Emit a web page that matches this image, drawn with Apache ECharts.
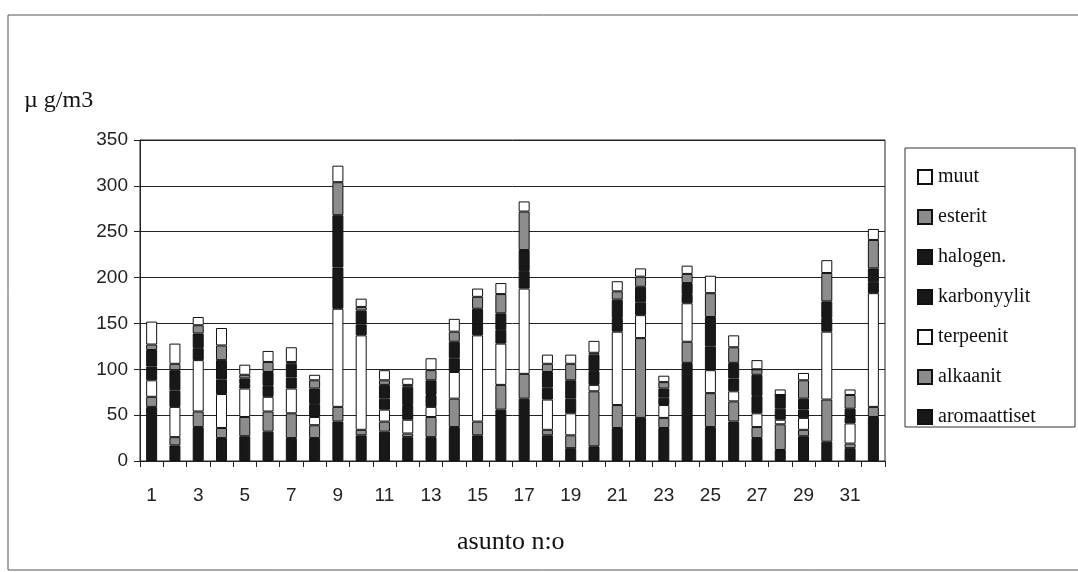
<!DOCTYPE html>
<html><head><meta charset="utf-8">
<script src="https://cdn.jsdelivr.net/npm/echarts@6/dist/echarts.min.js"></script>
<style>html,body{margin:0;padding:0;background:#fff}#c{width:1078px;height:572px}</style>
</head><body><div id="c"></div>
<script>
const categories = Array.from({length:32},(_,i)=>String(i+1));
const yTicks = [0,50,100,150,200,250,300,350];
const aromaattiset = [59,17,37,25,27,32,25,25,43,28,32,26,26,37,28,56,68,28,14,16,36,47,36,107,37,43,25,12,27,21,14,48];
const alkaanit     = [11,9,17,11,21,22,27,14,16,6,11,4,22,31,15,27,27,6,14,60,25,87,11,23,37,22,12,28,7,46,5,11];
const terpeenit    = [18,33,56,37,31,16,27,9,107,103,13,15,11,29,94,45,93,33,24,7,80,25,14,42,25,11,15,5,13,74,22,124];
const karbonyylit  = [15,18,13,16,5,12,12,14,45,12,12,16,13,15,13,15,19,13,16,15,15,14,8,10,26,14,19,12,9,15,7,12];
const halogen      = [18,22,16,21,6,15,15,17,57,15,15,20,16,18,16,18,23,17,20,18,20,17,10,12,32,17,23,15,12,18,9,15];
const esterit      = [6,7,9,16,4,11,2,9,36,4,5,2,11,11,13,21,42,9,18,2,9,11,7,10,26,17,6,0,20,31,15,31];
const muut         = [25,22,9,19,11,12,16,6,18,9,11,7,13,14,9,12,11,10,10,13,11,9,7,9,19,13,10,6,8,14,6,12];

const seriesDefs = [
  ['aromaattiset', aromaattiset, '#181818'],
  ['alkaanit', alkaanit, '#8c8c8c'],
  ['terpeenit', terpeenit, '#ffffff'],
  ['karbonyylit', karbonyylit, '#181818'],
  ['halogen.', halogen, '#181818'],
  ['esterit', esterit, '#8c8c8c'],
  ['muut', muut, '#ffffff']
];

const chart = echarts.init(document.getElementById('c'));
chart.setOption({
  backgroundColor:'#fff',
  animation:false,
  grid:{left:140,right:193,top:140,bottom:111,show:true,borderColor:'#222',borderWidth:1,backgroundColor:'transparent'},
  xAxis:{type:'category',data:categories,
    axisLine:{lineStyle:{color:'#222',width:1}},
    axisTick:{show:true,alignWithLabel:false,interval:0,length:6,lineStyle:{color:'#222'}},
    axisLabel:{interval:1,margin:25,color:'#222',fontSize:19,fontFamily:'Liberation Sans'}},
  yAxis:{type:'value',min:0,max:350,interval:50,
    axisLine:{show:true,lineStyle:{color:'#222'}},
    axisTick:{show:true,length:6,lineStyle:{color:'#222'}},
    axisLabel:{margin:12,color:'#222',fontSize:19,fontFamily:'Liberation Sans',
      formatter:v=>yTicks.includes(v)?String(v):''},
    splitLine:{lineStyle:{color:'#222',width:1}}},
  legend:{orient:'vertical',left:912,top:162,itemWidth:14,itemHeight:14,itemGap:20,
    data:['muut','esterit','halogen.','karbonyylit','terpeenit','alkaanit','aromaattiset'],
    textStyle:{fontFamily:'Liberation Serif',fontSize:20,color:'#111',lineHeight:20,padding:[0,0,0,1]},
    icon:'rect'},
  graphic:[
    {type:'rect',shape:{x:8,y:15,width:1100,height:555},style:{fill:'none',stroke:'#555',lineWidth:1},silent:true},
    {type:'rect',shape:{x:905,y:148,width:170,height:279},style:{fill:'none',stroke:'#333',lineWidth:1},silent:true},
    {type:'text',left:24,top:89,style:{text:'µ g/m3',font:'24px "Liberation Serif"',fill:'#111'}},
    {type:'text',left:457,top:529,style:{text:'asunto n:o',font:'26px "Liberation Serif"',fill:'#111'}}
  ],
  series:seriesDefs.map(([name,data,color])=>({
    name,type:'bar',stack:'total',data,barWidth:11,
    itemStyle:{color,borderColor:'#111',borderWidth:1}
  }))
});
</script></body></html>
